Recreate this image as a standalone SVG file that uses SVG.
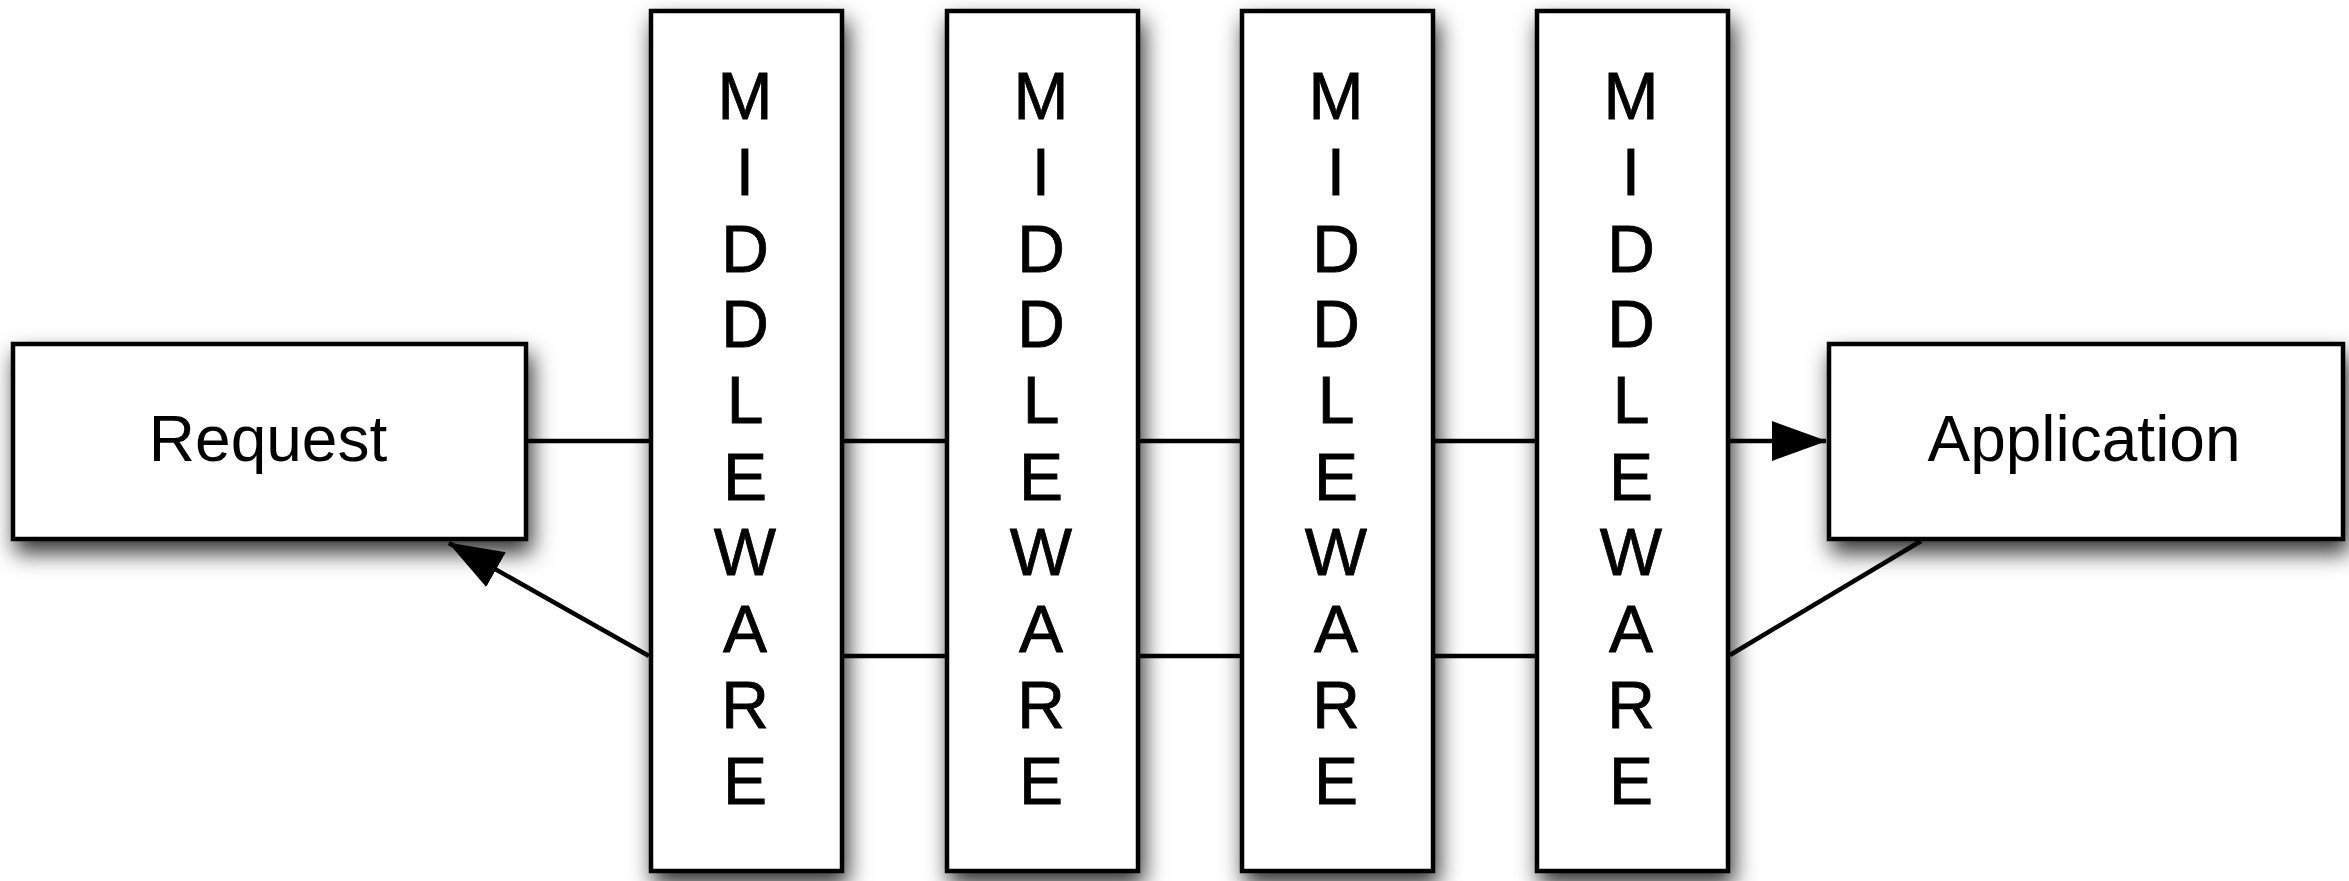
<svg xmlns="http://www.w3.org/2000/svg" width="2349" height="881" viewBox="0 0 2349 881">
<defs>
<filter id="sh" x="-20%" y="-20%" width="150%" height="150%">
<feDropShadow dx="4" dy="12" stdDeviation="11" flood-color="#000" flood-opacity="0.8"/>
</filter>
<marker id="arr" viewBox="0 0 55 40" refX="54" refY="20" markerWidth="55" markerHeight="40" markerUnits="userSpaceOnUse" orient="auto">
<path d="M0,0 L55,20 L0,40 z" fill="#000"/>
</marker>
<style>
.box{fill:#fff;stroke:#000;stroke-width:4.5;filter:url(#sh)}
.lbl{font-family:"Liberation Sans",Arial,sans-serif;font-size:64px;fill:#000;text-anchor:middle}
.mw{font-family:"Liberation Sans",Arial,sans-serif;font-size:66px;fill:#000;text-anchor:middle;stroke:#000;stroke-width:0.8}
.c{stroke:#000;stroke-width:4.5;fill:none}
</style>
</defs>
<rect width="2349" height="881" fill="#fff"/>
<g id="request">
<rect class="box" x="13" y="344" width="513" height="195"/>
<text class="lbl" x="268" y="461">Request</text>
</g>
<g id="application">
<rect class="box" x="1829" y="344" width="514" height="195"/>
<text class="lbl" x="2084" y="461">Application</text>
</g>
<g id="middleware1">
<rect class="box" x="651" y="11" width="191" height="860"/>
<text class="mw"><tspan x="745" y="119">M</tspan><tspan x="745" y="195">I</tspan><tspan x="745" y="272">D</tspan><tspan x="745" y="347">D</tspan><tspan x="745" y="423">L</tspan><tspan x="745" y="500">E</tspan><tspan x="745" y="575">W</tspan><tspan x="745" y="652">A</tspan><tspan x="745" y="728">R</tspan><tspan x="745" y="804">E</tspan></text>
</g>
<g id="middleware2">
<rect class="box" x="947" y="11" width="191" height="860"/>
<text class="mw"><tspan x="1041" y="119">M</tspan><tspan x="1041" y="195">I</tspan><tspan x="1041" y="272">D</tspan><tspan x="1041" y="347">D</tspan><tspan x="1041" y="423">L</tspan><tspan x="1041" y="500">E</tspan><tspan x="1041" y="575">W</tspan><tspan x="1041" y="652">A</tspan><tspan x="1041" y="728">R</tspan><tspan x="1041" y="804">E</tspan></text>
</g>
<g id="middleware3">
<rect class="box" x="1242" y="11" width="191" height="860"/>
<text class="mw"><tspan x="1336" y="119">M</tspan><tspan x="1336" y="195">I</tspan><tspan x="1336" y="272">D</tspan><tspan x="1336" y="347">D</tspan><tspan x="1336" y="423">L</tspan><tspan x="1336" y="500">E</tspan><tspan x="1336" y="575">W</tspan><tspan x="1336" y="652">A</tspan><tspan x="1336" y="728">R</tspan><tspan x="1336" y="804">E</tspan></text>
</g>
<g id="middleware4">
<rect class="box" x="1537" y="11" width="191" height="860"/>
<text class="mw"><tspan x="1631" y="119">M</tspan><tspan x="1631" y="195">I</tspan><tspan x="1631" y="272">D</tspan><tspan x="1631" y="347">D</tspan><tspan x="1631" y="423">L</tspan><tspan x="1631" y="500">E</tspan><tspan x="1631" y="575">W</tspan><tspan x="1631" y="652">A</tspan><tspan x="1631" y="728">R</tspan><tspan x="1631" y="804">E</tspan></text>
</g>
<g id="connectors">
<line class="c" x1="528" y1="441" x2="649" y2="441"/>
<line class="c" x1="844" y1="441" x2="945" y2="441"/>
<line class="c" x1="1140" y1="441" x2="1240" y2="441"/>
<line class="c" x1="1435" y1="441" x2="1535" y2="441"/>
<line class="c" x1="1730" y1="441" x2="1826" y2="441" marker-end="url(#arr)"/>
<line class="c" x1="1730" y1="655" x2="1921" y2="541"/>
<line class="c" x1="1435" y1="656" x2="1535" y2="656"/>
<line class="c" x1="1140" y1="656" x2="1240" y2="656"/>
<line class="c" x1="844" y1="656" x2="945" y2="656"/>
<line class="c" x1="649" y1="656" x2="449" y2="543" marker-end="url(#arr)"/>
</g>
</svg>
